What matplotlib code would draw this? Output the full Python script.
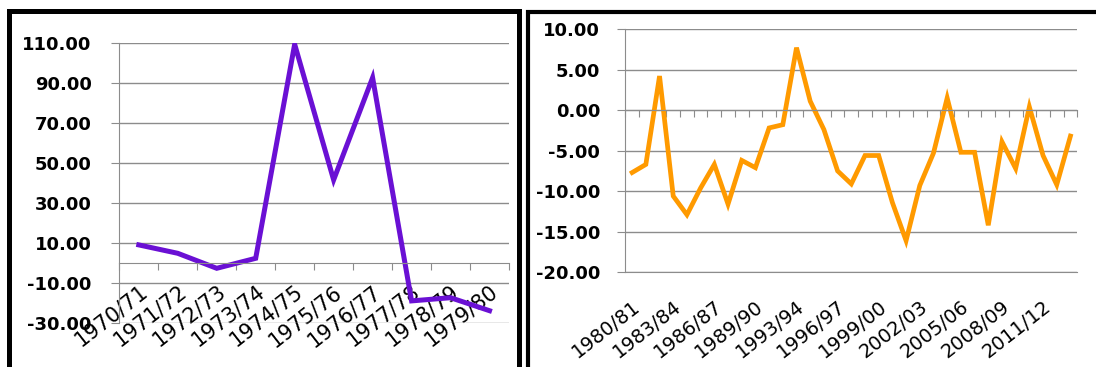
import matplotlib
matplotlib.use("Agg")
import matplotlib.pyplot as plt
from matplotlib.patches import Rectangle
from matplotlib.ticker import FuncFormatter
import numpy as np

plt.rcParams['font.family'] = 'DejaVu Sans'
plt.rcParams['axes.unicode_minus'] = False

# Annual growth, 1970s
seasons_70s = ['1970/71', '1971/72', '1972/73', '1973/74', '1974/75',
               '1975/76', '1976/77', '1977/78', '1978/79', '1979/80']
growth_70s = [9.2, 5.0, -2.5, 2.5, 109.5, 41.7, 92.8, -18.8, -17.2, -23.7]

# Annual growth, 1980/81 onwards
seasons_80s = ['1980/81', '1981/82', '1982/83', '1983/84', '1984/85', '1985/86',
               '1986/87', '1987/88', '1988/89', '1989/90', '1990/91', '1992/93',
               '1993/94', '1994/95', '1995/96', '1996/97', '1997/98', '1998/99',
               '1999/00', '2000/01', '2001/02', '2002/03', '2003/04', '2004/05',
               '2005/06', '2006/07', '2007/08', '2008/09', '2009/10', '2010/11',
               '2011/12', '2012/13', '2013/14']
growth_80s = [-7.7, -6.7, 4.2, -10.6, -12.9, -9.6, -6.7, -11.6, -6.2, -7.1,
              -2.2, -1.8, 7.7, 1.1, -2.4, -7.5, -9.1, -5.6, -5.6, -11.4,
              -16.1, -9.3, -5.3, 1.5, -5.2, -5.2, -14.2, -3.9, -7.2, 0.4,
              -5.6, -9.2, -3.2]

W, H = 1096, 367
fig = plt.figure(figsize=(W / 100, H / 100), dpi=100)
grid_col = '#8c8c8c'


def px_axes(x0, y0, x1, y1):
    return fig.add_axes([x0 / W, 1 - y1 / H, (x1 - x0) / W, (y1 - y0) / H])


def style(ax, n, ymin, ymax, step, ypad):
    ax.set_xlim(0, n)
    ax.set_ylim(ymin, ymax)
    ax.set_yticks(np.arange(ymin, ymax + 0.1, step))
    ax.yaxis.set_major_formatter(FuncFormatter(lambda v, p: f'{v:.2f}'))
    ax.grid(axis='y', color=grid_col, lw=1)
    ax.set_axisbelow(True)
    ax.spines[['top', 'right']].set_visible(False)
    ax.spines['left'].set_color(grid_col)
    ax.spines['bottom'].set_color(grid_col)
    ax.spines['bottom'].set_position(('data', 0))
    ax.tick_params(axis='y', length=6, color=grid_col, labelsize=13, pad=ypad)
    for lbl in ax.get_yticklabels():
        lbl.set_fontweight('bold')
    # category boundaries get the tick marks on the zero line
    ax.set_xticks(np.arange(n + 1))
    ax.set_xticklabels([])
    ax.tick_params(axis='x', which='major', length=5, color=grid_col)


rot = dict(rotation=38, ha='right', va='top', rotation_mode='anchor')

# left chart: labels hang off the zero line
ax1 = px_axes(119.3, 43.3, 509, 323.3)
n1 = len(seasons_70s)
style(ax1, n1, -30, 110, 20, ypad=14)
x1 = np.arange(n1) + 0.5
ax1.plot(x1, growth_70s, color='#6a10d4', lw=3.6, solid_joinstyle='miter')
ax1.set_xticks(x1, minor=True)
ax1.set_xticklabels(seasons_70s, minor=True, **rot)
ax1.tick_params(axis='x', which='minor', length=0, labelsize=15, pad=13)

# right chart: labels sit under the plot, every third season
ax2 = px_axes(625.3, 29, 1077.3, 272.3)
n2 = len(seasons_80s)
style(ax2, n2, -20, 10, 5, ypad=12)
x2 = np.arange(n2) + 0.5
ax2.plot(x2, growth_80s, color='#ff9a00', lw=3.4, solid_joinstyle='miter')
sec = ax2.secondary_xaxis('bottom')
sec.set_xticks(x2[::3])
sec.set_xticklabels(seasons_80s[::3], **rot)
sec.tick_params(axis='x', length=0, labelsize=14, pad=18)
sec.spines['bottom'].set_color(grid_col)

# panel frames
fig.add_artist(Rectangle((8.5 / W, -0.2), 510 / W, 1.2 - 10.5 / H,
                         transform=fig.transFigure, fill=False,
                         ec='black', lw=3.6, clip_on=False))
fig.add_artist(Rectangle((528 / W, -0.2), 600 / W, 1.2 - 12 / H,
                         transform=fig.transFigure, fill=False,
                         ec='black', lw=3.0, clip_on=False))

fig.savefig('out.png', dpi=100)
